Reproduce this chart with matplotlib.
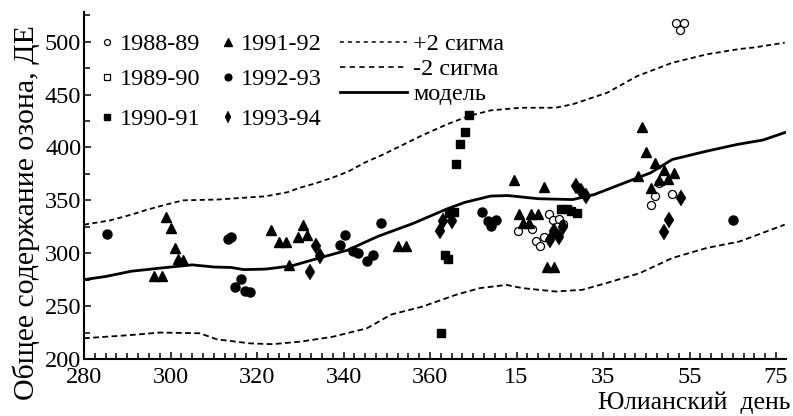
import numpy as np
import matplotlib
matplotlib.use("Agg")
from matplotlib import pyplot as plt
from matplotlib.ticker import MultipleLocator

plt.rcParams['font.family'] = ['Liberation Serif', 'DejaVu Serif']

# day numbers after 365 continue (380 = 15 January)
tick_pos = [280, 300, 320, 340, 360, 380, 400, 420, 440]
tick_lab = ["280", "300", "320", "340", "360", "15", "35", "55", "75"]

# model and +/- 2 sigma curves
model_x = [280, 285, 291, 299, 305, 310, 314, 317, 322, 328, 334, 341, 348, 356,
           364, 368, 374, 378, 385, 393, 398, 404, 411, 416, 424, 431, 437, 442]
model_y = [275, 278, 283, 286.5, 289, 287, 286.5, 284.5, 285, 288, 295, 303, 316, 328,
           342, 348, 354, 354.5, 351.5, 350.7, 355.5, 365, 376, 388.6, 396.5, 402.8, 407, 414]
upper_x = [280, 286, 291, 294.5, 299, 303, 310.7, 314, 322, 327, 330, 333.5, 337.5,
           341, 345, 349, 353, 358, 364, 369, 374, 381, 389, 393, 401, 408, 416,
           424, 431.5, 435, 442]
upper_y = [327, 331, 336.5, 341, 346, 350, 350.7, 351.6, 353.8, 357.6, 362, 366, 371.5,
           377, 385.8, 393, 401, 411, 422, 429.7, 435, 437.5, 437.5, 440.8, 451.8, 467.6, 480,
           488, 493, 494.5, 499]
lower_x = [280, 291, 297.5, 306.8, 310.7, 318.3, 323.6, 330, 337.5, 345.4, 351, 358.3,
           366, 371.5, 377.7, 381.4, 389, 395.2, 400.8, 408.4, 416, 424, 431.5, 442]
lower_y = [219.6, 222.7, 225, 224.3, 218.6, 214.8, 214, 216.4, 221, 229, 242, 249.6,
           260.7, 267, 270, 267, 263.8, 265.4, 271.8, 281, 295.4, 305, 311, 327]

# observations
y8889_x = [380.3, 383.5, 384.4, 385.5, 386.3, 387.6, 388.5, 389.8, 390.7,
           411, 411.9, 413, 416, 416.9, 418.8, 417.9]
y8889_y = [321.3, 322.8, 311.8, 307, 315.3, 337.4, 331, 332.6, 328,
           346, 354.5, 366, 356, 517.5, 517.5, 511]
y8990_x = []
y8990_y = []
y9091_x = [362.6, 363.4, 364.1, 364.5, 365.6, 366, 367, 368, 369,
           390.3, 391.7, 392.6, 393.9]
y9091_y = [225, 298.6, 294.8, 338, 339, 383.9, 403.4, 414.6, 430.6,
           341.9, 341.9, 339.6, 338]
y9192_x = [296.2, 298, 298.9, 300, 301, 301.8, 302.9, 323.3, 325, 326.8, 327.4,
           329.5, 330.6, 331.6, 352.6, 354.4, 379.3, 386.3, 380.5, 383.4, 385,
           381.4, 382.8, 387.1, 388.6, 408, 409, 410, 411, 412.1, 412.9, 414.2,
           415, 416.3]
y9192_y = [278, 278, 334, 323.7, 305, 294.4, 293.8, 321.6, 310.3, 310.3, 288.6,
           315, 327, 317.5, 307, 307, 369, 362.6, 337.4, 337.4, 337.4,
           328.6, 328.6, 287, 287, 373, 419.5, 395.5, 362, 384.8, 369, 379,
           369.7, 376]
y9293_x = [285.4, 313.2, 314, 315, 316.2, 317.3, 318.3, 339.3, 340.4, 342.2,
           343.4, 345.5, 346.8, 348.7, 372, 373.4, 374.2, 375.2, 430]
y9293_y = [318, 313.4, 315, 267.6, 275.5, 264.7, 263.2, 308, 317, 302.4,
           300, 292.4, 298.6, 328.6, 339, 330, 325.6, 331, 331.8]
y9394_x = [332.3, 333.6, 334.6, 362.2, 363, 365, 387.7, 388.7, 389.9, 390.7,
           393.8, 395, 396, 414.2, 415.3, 418]
y9394_y = [282, 306.6, 297, 321.3, 330, 330, 312.4, 321.3, 315, 325,
           363.5, 358.8, 354, 320, 331.8, 352.3]

W, H = 793, 416
fig = plt.figure(figsize=(W / 100, H / 100), dpi=100)
ax = fig.add_axes([84 / W, 1 - 359 / H, (786 - 84) / W, (359 - 12) / H])

ax.plot(model_x, model_y, color="black", lw=2.0)
ax.plot(upper_x, upper_y, color="black", lw=1.3, dashes=(2.8, 1.9))
ax.plot(lower_x, lower_y, color="black", lw=1.3, dashes=(3.2, 1.9))

styles = [
    (y8889_x, y8889_y, dict(marker="o", ms=5.8, mfc="white", mec="black", mew=0.9)),
    (y8990_x, y8990_y, dict(marker="s", ms=5.2, mfc="white", mec="black", mew=0.9)),
    (y9091_x, y9091_y, dict(marker="s", ms=6.2, mfc="black", mec="black")),
    (y9192_x, y9192_y, dict(marker="^", ms=7.3, mfc="black", mec="black")),
    (y9293_x, y9293_y, dict(marker="o", ms=6.5, mfc="black", mec="black")),
    (y9394_x, y9394_y, dict(marker="d", ms=7.8, mfc="black", mec="black", mew=0.3)),
]
for xs, ys, st in styles:
    ax.plot(xs, ys, ls="none", **st)

ax.set_xlim(280, 442.3)
ax.set_ylim(200, 528)
ax.set_xticks(tick_pos)
ax.set_xticklabels(tick_lab)
ax.xaxis.set_minor_locator(MultipleLocator(2.5))
ax.set_yticks(np.arange(200, 501, 50))
ax.yaxis.set_minor_locator(MultipleLocator(25))
ax.tick_params(which="both", direction="in", labelsize=17.5, width=1.1)
ax.tick_params(which="major", length=5)
ax.tick_params(which="minor", length=4.5)
ax.tick_params(axis="x", pad=6)
ax.tick_params(axis="y", pad=2)
for s in ("top", "right"):
    ax.spines[s].set_visible(False)
for s in ("left", "bottom"):
    ax.spines[s].set_linewidth(1.5)


def fx(px):
    return px / W


def fy(py):
    return 1 - py / H


# hand-made legend
leg_marks = [
    (107, 42, "1988-89", styles[0][2]), (107, 77, "1989-90", styles[1][2]),
    (107, 117, "1990-91", styles[2][2]), (228, 42, "1991-92", styles[3][2]),
    (228, 77, "1992-93", styles[4][2]), (228, 117, "1993-94", styles[5][2]),
]
for px, py, lab, st in leg_marks:
    st = dict(st)
    st["ms"] = st["ms"] * 0.75
    fig.add_artist(plt.Line2D([fx(px)], [fy(py)], ls="none", **st))
    fig.text(fx(px + 13), fy(py), lab, fontsize=17.5, va="center_baseline", ha="left")

leg_lines = [
    (42, "+2 сигма", dict(lw=1.1, dashes=(2.6, 2.6))),
    (67, "-2 сигма", dict(lw=1.2, dashes=(3.2, 2.6))),
    (92, "модель", dict(lw=2.0)),
]
for py, lab, st in leg_lines:
    fig.add_artist(plt.Line2D([fx(340), fx(407)], [fy(py), fy(py)], color="black", **st))
    fig.text(fx(413), fy(py), lab, fontsize=17.5, va="center_baseline", ha="left")

fig.text(fx(790), fy(400), "Юлианский  день", fontsize=18.5, ha="right", va="center_baseline")
fig.text(fx(26), fy(213), "Общее содержание озона, ДЕ", fontsize=21.5,
         rotation=90, ha="center", va="center")

fig.savefig("out.png", dpi=100)
